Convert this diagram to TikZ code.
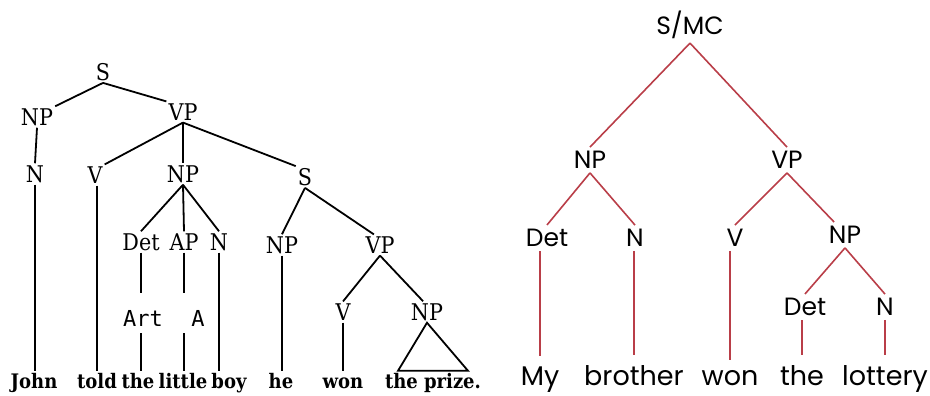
\documentclass[tikz,border=0pt]{standalone}
\usepackage{fontspec}
\newfontfamily\catfont{DejaVu Serif Condensed}
\newfontfamily\lexfont{DejaVu Serif Condensed Bold}
\newfontfamily\artfont{DejaVu Sans Mono}
\newfontfamily\geofont{Poppins}
\usetikzlibrary{automata,positioning}
\definecolor{treered}{RGB}{185,62,72}

\begin{document}
\begin{tikzpicture}[x=1pt,y=-1pt,
    cat/.style={font=\catfont\fontsize{23}{23}\selectfont,inner sep=2pt},
    lex/.style={font=\lexfont\fontsize{20}{20}\selectfont,inner sep=2pt,anchor=base,
                text height=15pt},
    art/.style={font=\artfont\fontsize{22}{22}\selectfont,inner sep=2pt,anchor=base,
                text height=31pt,text depth=5pt},
    gcat/.style={font=\geofont\fontsize{25}{25}\selectfont,inner sep=4pt},
    glex/.style={font=\geofont\fontsize{27}{27}\selectfont,inner xsep=1pt,inner ysep=10pt,anchor=base},
    branch/.style={line width=1.8pt},
    rbranch/.style={line width=1.6pt,treered}]
    \useasboundingbox (0,0) rectangle (930,396);

    % left tree
    \node[cat] (s_0)   at (103,72)  {S};
    \node[cat] (np_1)  at (37,117)  {NP};
    \node[cat] (vp_1)  at (183,112) {VP};
    \node[cat] (n_1)   at (35,174)  {N};
    \node[cat] (v_1)   at (95,175)  {V};
    \node[cat] (np_2)  at (183,174) {NP};
    \node[cat] (det_1) at (141,242) {Det};
    \node[cat] (ap_1)  at (184,242) {AP};
    \node[cat] (n_2)   at (219,242) {N};
    \node[art] (art_1) at (143,326) {Art};
    \node[art] (a_1)   at (198,326) {A};
    \node[cat] (s_1)   at (305,177) {S};
    \node[cat] (np_3)  at (282,245) {NP};
    \node[cat] (vp_2)  at (380,245) {VP};
    \node[cat] (v_2)   at (343,312) {V};
    \node[cat] (np_4)  at (427,312) {NP};

    \node[lex] (w_john)   at (34,388)  {John};
    \node[lex] (w_told)   at (97,388)  {told};
    \node[lex] (w_the)    at (138,388) {the};
    \node[lex] (w_little) at (183,388) {little};
    \node[lex] (w_boy)    at (229,388) {boy};
    \node[lex] (w_he)     at (281,388) {he};
    \node[lex] (w_won)    at (343,388) {won};
    \node[lex] (w_prize)  at (433,388) {the prize.};

    \path[branch]
    (s_0.south) edge (np_1.north east)
                edge (vp_1.north west)
    (np_1.south) edge (n_1.north)
    (vp_1.south) edge (v_1.north east)
                 edge (np_2.north)
                 edge (s_1.north west)
    (np_2.south) edge (det_1.north)
                 edge (ap_1.north)
                 edge (n_2.north)
    (s_1.south) edge (np_3.north)
                edge (vp_2.120)
    (vp_2.south) edge (v_2.north)
                 edge (np_4.110)
    (n_1.south) edge (n_1.south |- w_john.north)
    (w_told.north |- v_1.south) edge (w_told.north)
    (det_1.south) edge (det_1.south |- art_1.north)
    (det_1.south |- art_1.south) edge (det_1.south |- w_the.north)
    (ap_1.south) edge (ap_1.south |- a_1.north)
    (ap_1.south |- a_1.south) edge (ap_1.south |- w_little.north)
    (n_2.south) edge (n_2.south |- w_boy.north)
    (np_3.south) edge (np_3.south |- w_he.north)
    (v_2.south) edge (v_2.south |- w_won.north);
    \draw[branch] (np_4.south) -- ([xshift=-35pt]w_prize.north)
                  -- ([xshift=35pt]w_prize.north) -- cycle;

    % right tree
    \node[gcat] (smc)   at (690,25)  {S/MC};
    \node[gcat] (np_a)  at (590,160) {NP};
    \node[gcat] (vp_a)  at (787,160) {VP};
    \node[gcat] (det_a) at (547,238) {Det};
    \node[gcat] (n_a)   at (635,238) {N};
    \node[gcat] (v_a)   at (735,238) {V};
    \node[gcat] (np_b)  at (845,235) {NP};
    \node[gcat] (det_b) at (805,307) {Det};
    \node[gcat] (n_b)   at (885,307) {N};

    \node[glex] (w_my)      at (540,385) {My};
    \node[glex] (w_brother) at (634,385) {brother};
    \node[glex] (w_won2)    at (730,385) {won};
    \node[glex] (w_the2)    at (802,385) {the};
    \node[glex] (w_lottery) at (885,385) {lottery};

    \path[rbranch]
    (smc.south) edge (np_a.north)
                edge (vp_a.north)
    (np_a.south) edge (det_a.north)
                 edge (n_a.north)
    (vp_a.south) edge (v_a.north)
                 edge (np_b.130)
    (np_b.south) edge (det_b.north)
                 edge (n_b.north)
    (w_my.north |- det_a.south) edge (w_my.north)
    (w_brother.north |- n_a.south) edge (w_brother.north)
    (w_won2.north |- v_a.south) edge (w_won2.north)
    (w_the2.north |- det_b.south) edge (w_the2.north)
    (w_lottery.north |- n_b.south) edge (w_lottery.north);
\end{tikzpicture}
\end{document}
